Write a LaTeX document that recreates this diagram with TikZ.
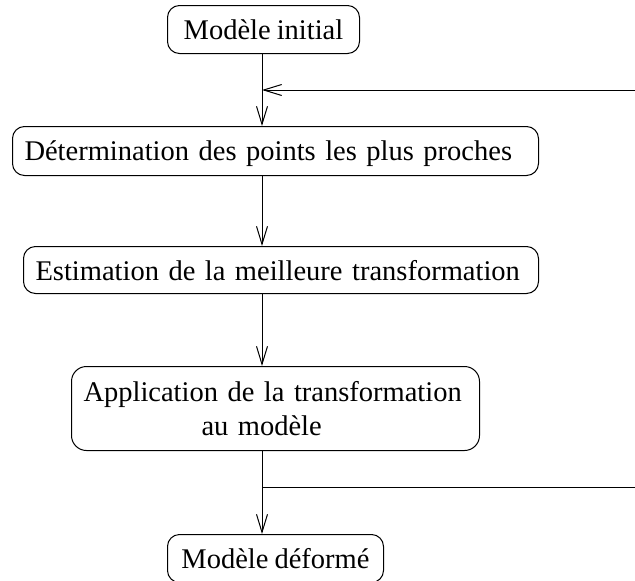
\documentclass[tikz,border=0pt]{standalone}
\usepackage{fontspec}
\setmainfont{Liberation Serif}
\usetikzlibrary{arrows.meta}
\newcommand\bxfont{\fontsize{28.5}{34}\selectfont\spaceskip=6pt plus 1pt minus 1pt\relax}
\begin{document}
\begin{tikzpicture}[x=1pt,y=-1pt,
  box/.style={draw, line width=1pt, rounded corners=12pt, anchor=north west,
    inner xsep=12pt, inner ysep=0pt, font=\bxfont},
  onebox/.style={box, align=left, text depth=0pt},
  conn/.style={line width=1pt},
  arr/.style={conn, -{Straight Barb[length=18pt,width=11pt]}}]
\useasboundingbox (0,0) rectangle (635,581);
\coordinate (spine) at (262,0);
\coordinate (fbIn) at (635,90);
\coordinate (fbOut) at (635,487);
\node[box, text depth=0pt, minimum width=192pt, minimum height=48pt] (init) at (167,5) {Modèle initial};
\node[onebox, text width=502pt, minimum height=49pt] (closest) at (12,126) {Détermination des points les plus proches};
\node[onebox, text width=491pt, minimum height=47pt] (estim) at (23,246) {Estimation de la meilleure transformation};
\node[box, align=left, text width=384pt, minimum height=84pt, rounded corners=15pt] (apply) at (71,366) {Application de la transformation\\\hspace*{118pt}au modèle};
\node[box, text depth=0pt, minimum width=216pt, minimum height=48pt] (final) at (167,534) {Modèle déformé};
\draw[arr] (init.south -| spine) -- (closest.north -| spine);
\draw[arr] (fbIn) -- (fbIn -| spine);
\draw[arr] (closest.south -| spine) -- (estim.north -| spine);
\draw[arr] (estim.south -| spine) -- (apply.north -| spine);
\draw[arr] (apply.south -| spine) -- (final.north -| spine);
\draw[conn] (fbOut -| spine) -- (fbOut);
\end{tikzpicture}
\end{document}
